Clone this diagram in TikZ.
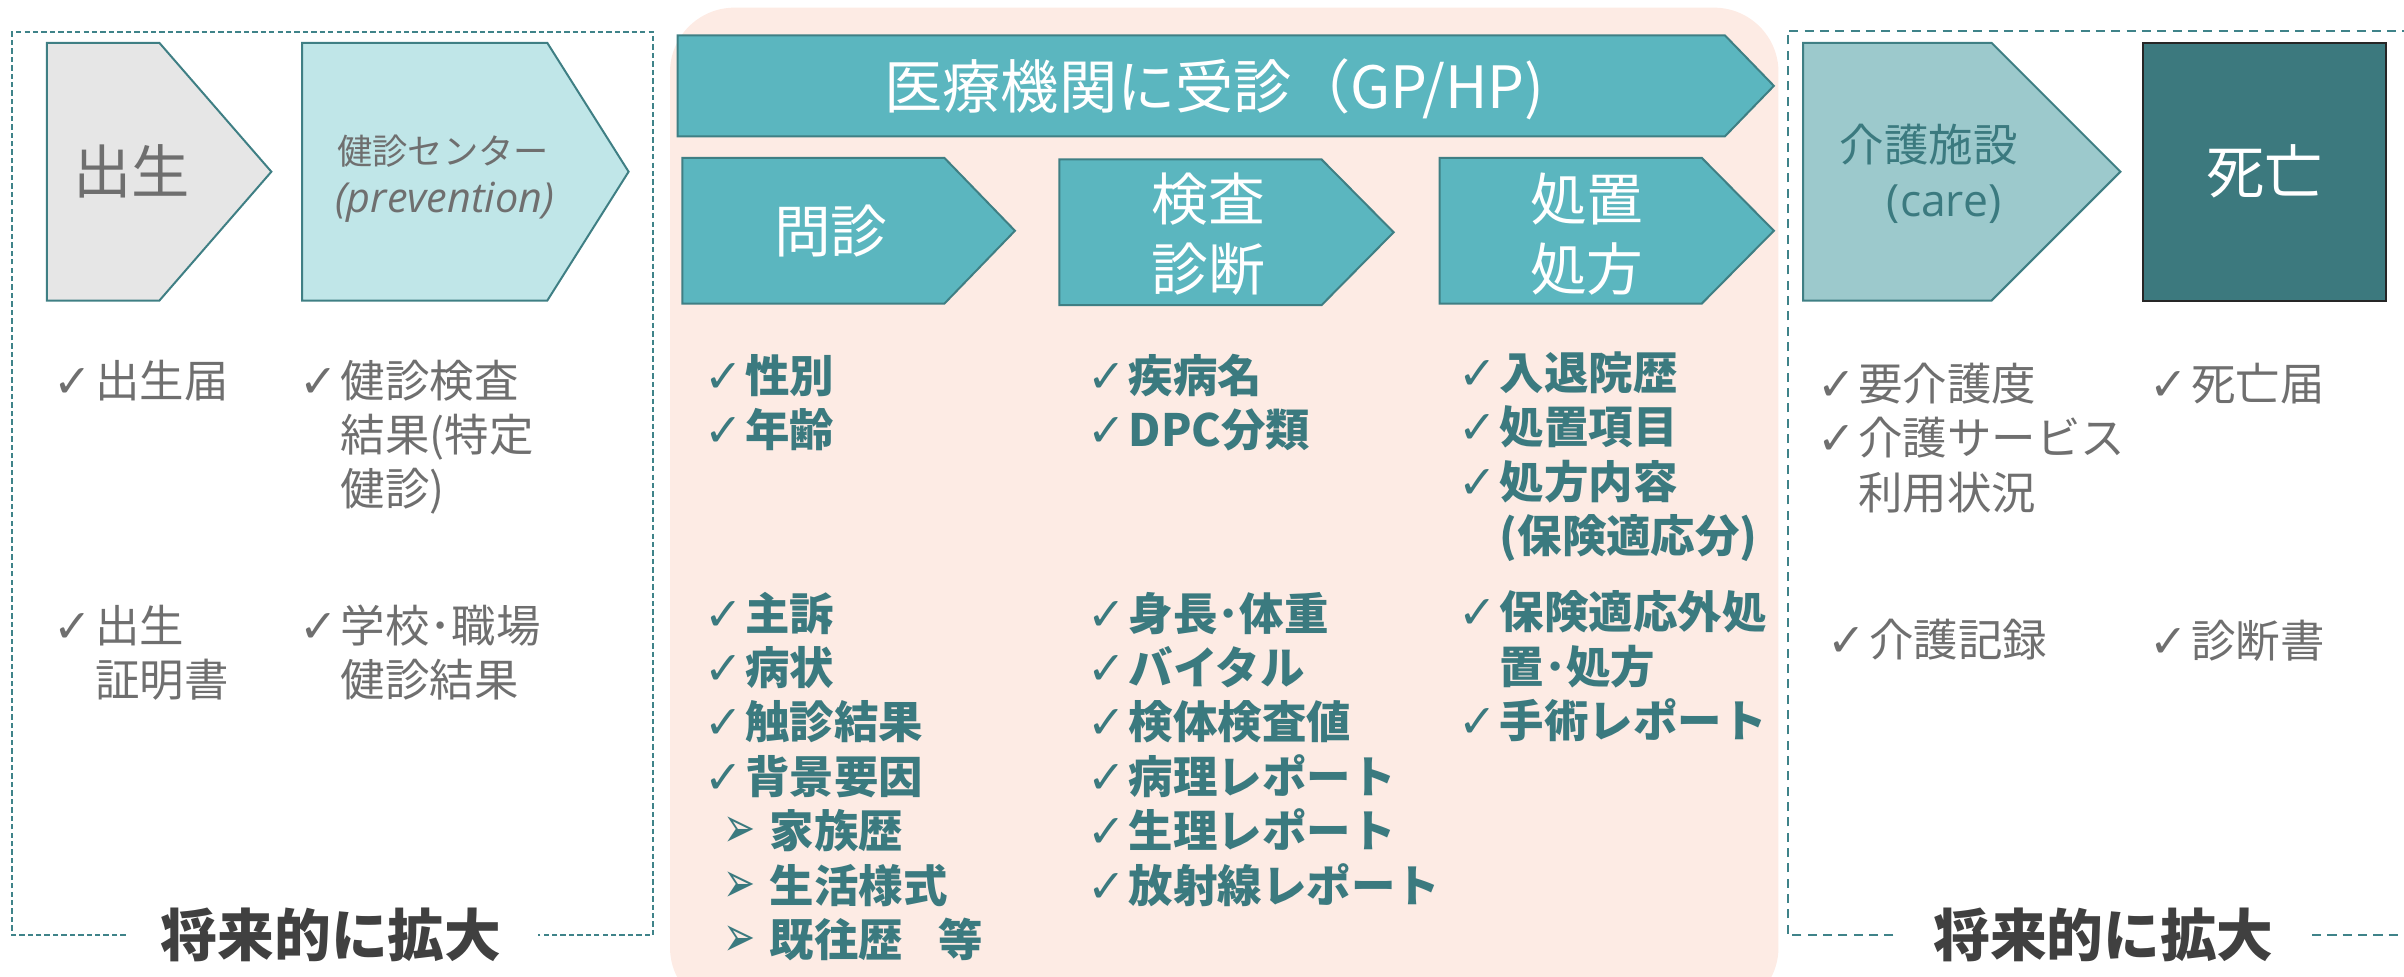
\documentclass[tikz,border=0pt]{standalone}
\usepackage{fontspec}
\setmainfont{Noto Sans CJK JP}
\newfontfamily\dvs{DejaVu Sans}
\newfontfamily\latf{Open Sans}
\definecolor{tline}{HTML}{3F7F84}
\definecolor{dline}{HTML}{3F8389}
\definecolor{banner}{HTML}{5BB6BF}
\definecolor{lcyan}{HTML}{C0E6E8}
\definecolor{lgray}{HTML}{E6E6E6}
\definecolor{careg}{HTML}{9CC9CC}
\definecolor{deathf}{HTML}{3C797E}
\definecolor{salmon}{HTML}{FDEBE4}
\definecolor{gtext}{HTML}{6F6F6F}
\definecolor{ttext}{HTML}{3B7A7F}
\definecolor{dtext}{HTML}{404040}
\newcommand\ckm{\makebox[27pt][l]{\mdseries\dvs\fontsize{30}{30}\selectfont ✓}}
\newcommand\arm{\hspace*{13pt}\makebox[30pt][l]{\resizebox{21pt}{20pt}{\mdseries\dvs ➢}}}
\newcommand\ind{\hspace*{27pt}}
\newcommand\pent[6]{\draw[#6] (#1,#2) -- (#3,#2) -- (#4,{(#2+#5)/2}) -- (#3,#5) -- (#1,#5) -- cycle;}
\tikzset{
  pent/.style={draw=tline, line width=1.3pt, line join=miter},
  lbl/.style={inner sep=0pt, anchor=base, align=center},
  lstg/.style={inner sep=0pt, anchor=base west, align=left, text=gtext, font=\fontsize{29}{35.5}\selectfont},
  lstt/.style={inner sep=0pt, anchor=base west, align=left, text=ttext, font=\bfseries\fontsize{29}{35.5}\selectfont},
  dashL/.style={draw=dline, line width=1.2pt, dash pattern=on 3.5pt off 2pt},
  dashR/.style={draw=dline, line width=1.3pt, dash pattern=on 6pt off 4pt},
  future/.style={inner sep=0pt, anchor=base, text=dtext, font=\bfseries\fontsize{37}{44}\selectfont},
}
\begin{document}
\begin{tikzpicture}[x=1pt,y=-1pt]
\useasboundingbox (0,0) rectangle (1568,637);
\clip (0,0) rectangle (1568,637);
% salmon background
\fill[salmon, rounded corners=42pt] (437,5) rectangle (1160,660);
% dashed boxes
\draw[dashL] (82,610) -- (8,610) -- (8,21) -- (426,21) -- (426,610) -- (351,610);
\draw[dashR] (1235,610) -- (1166,610) -- (1166,20) -- (1580,20);
\draw[dashR] (1508,610) -- (1580,610);
% pentagons
\pent{30.5}{28}{104}{177}{196}{pent, fill=lgray}
\pent{197}{28}{357}{410}{196}{pent, fill=lcyan}
\pent{442}{23}{1125}{1157}{89}{pent, fill=banner}
\pent{445}{103}{616}{662}{198}{pent, fill=banner}
\pent{691}{104}{862}{909}{199}{pent, fill=banner}
\pent{939}{103}{1110}{1157}{198}{pent, fill=banner}
\pent{1176}{28}{1299}{1383}{196}{pent, fill=careg}
\draw[fill=deathf, draw=black!85, line width=1.3pt] (1398,28) rectangle (1556,196);
% headings (multi-line nodes: anchor=base is the last line)
\node[lbl, text=gtext, font=\fontsize{38}{46}\selectfont] (birth) at (86,126.5) {出生};
\node[lbl, text=gtext, font=\fontsize{23}{30}\selectfont] (kenshin) at (289,107.5) {健診センター};
\node[lbl, text=gtext, font=\latf\itshape\fontsize{27}{30}\selectfont] (prev) at (290,138.5) {(prevention)};
\node[lbl, text=white, font=\fontsize{38}{44}\selectfont] (visit) at (792,71) {医療機関に受診（GP/HP)};
\node[lbl, text=white, font=\fontsize{37}{46}\selectfont] (monshin) at (542,164.5) {問診};
\node[lbl, text=white, font=\fontsize{37}{46}\selectfont] (kensa) at (788,189.5) {検査\\診断};
\node[lbl, text=white, font=\fontsize{37}{46}\selectfont] (shochi) at (1035,189.5) {処置\\処方};
\node[lbl, text=ttext, font=\fontsize{29}{36}\selectfont] (kaigo) at (1258,105.5) {介護施設};
\node[lbl, text=ttext, font=\latf\fontsize{29}{36}\selectfont] (care) at (1268,141) {(care)};
\node[lbl, text=white, font=\fontsize{38}{46}\selectfont] (death) at (1477,126.5) {死亡};
% left lists
\node[lstg] (l1) at (35,259) {\ckm 出生届};
\node[lstg] (l2) at (195,330) {\ckm 健診検査\\\ind 結果(特定\\\ind 健診)};
\node[lstg] (l3) at (35,454.5) {\ckm 出生\\\ind 証明書};
\node[lstg] (l4) at (195,454.5) {\ckm 学校･職場\\\ind 健診結果};
% middle lists
\node[lstt] (m1) at (459,291.5) {\ckm 性別\\\ckm 年齢};
\node[lstt] (m2) at (459,624) {\ckm 主訴\\\ckm 病状\\\ckm 触診結果\\\ckm 背景要因\\\arm 家族歴\\\arm 生活様式\\\arm 既往歴\hspace{0.8em}等};
\node[lstt] (m3) at (709,291.5) {\ckm 疾病名\\\ckm DPC分類};
\node[lstt] (m4) at (709,588.5) {\ckm 身長･体重\\\ckm バイタル\\\ckm 検体検査値\\\ckm 病理レポート\\\ckm 生理レポート\\\ckm 放射線レポート};
\node[lstt] (m5) at (951,360.5) {\ckm 入退院歴\\\ckm 処置項目\\\ckm 処方内容\\\ind (保険適応分)};
\node[lstt] (m6) at (951,481) {\ckm 保険適応外処\\\ind 置･処方\\\ckm 手術レポート};
% right lists
\node[lstg] (r1) at (1185,332) {\ckm 要介護度\\\ckm 介護サービス\\\ind 利用状況};
\node[lstg] (r2) at (1402,261) {\ckm 死亡届};
\node[lstg] (r3) at (1192,428) {\ckm 介護記録};
\node[lstg] (r4) at (1402,429) {\ckm 診断書};
% future labels
\node[future] (fl) at (216,624) {将来的に拡大};
\node[future] (fr) at (1372,624) {将来的に拡大};
\end{tikzpicture}
\end{document}
